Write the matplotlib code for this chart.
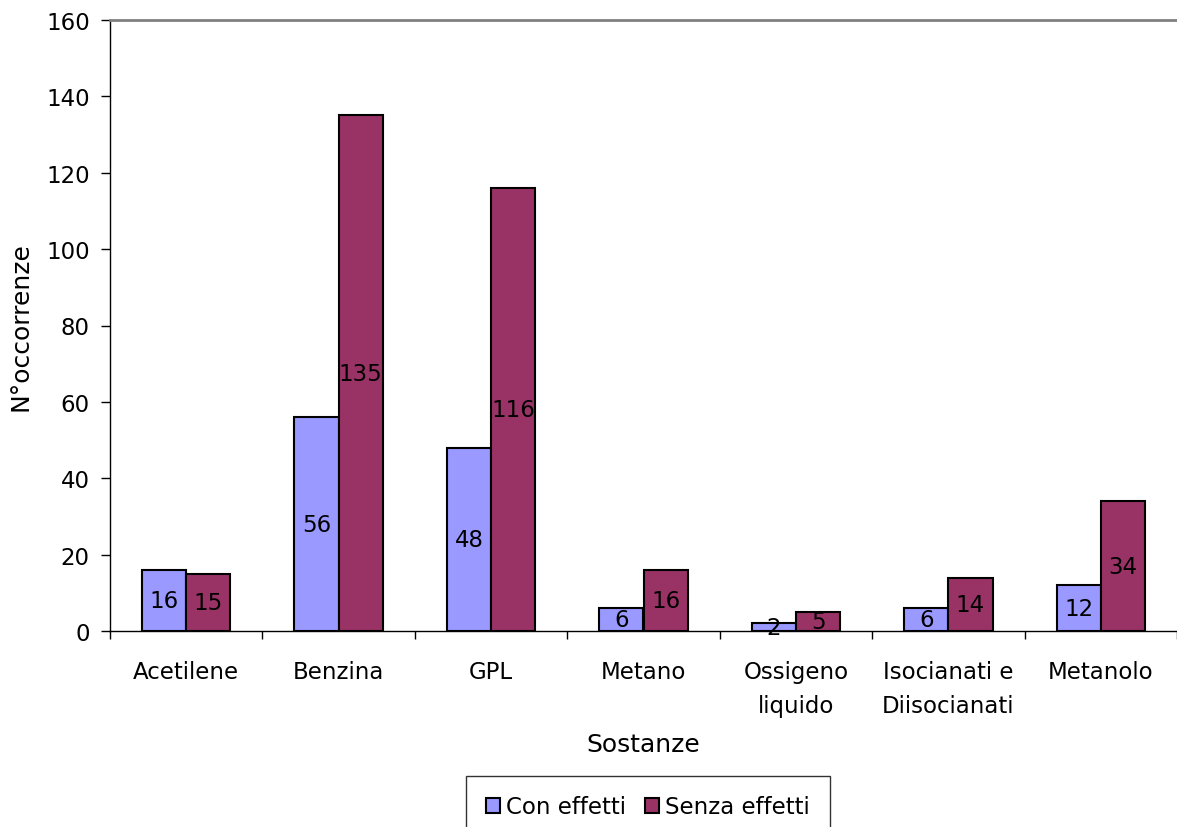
import matplotlib.pyplot as plt
import numpy as np

categories = ["Acetilene", "Benzina", "GPL", "Metano", "Ossigeno\nliquido",
              "Isocianati e\nDiisocianati", "Metanolo"]
con_effetti = [16, 56, 48, 6, 2, 6, 12]
senza_effetti = [15, 135, 116, 16, 5, 14, 34]

plt.rcParams['font.family'] = ['DejaVu Sans']

fig = plt.figure(figsize=(11.77, 8.28), dpi=100)
ax = fig.add_axes([110 / 1177, 1 - 632 / 828, 1 - 110 / 1177, (632 - 21) / 828])

x = np.arange(len(categories))
w = 0.29
b1 = ax.bar(x - w / 2, con_effetti, w, color='#9999FF', edgecolor='black', linewidth=1.5,
            label='Con effetti')
b2 = ax.bar(x + w / 2, senza_effetti, w, color='#993366', edgecolor='black', linewidth=1.5,
            label='Senza effetti')
ax.bar_label(b1, label_type='center', fontsize=16.5)
ax.bar_label(b2, label_type='center', fontsize=16.5)

ax.set_xlim(-0.5, len(categories) - 0.5)
ax.set_ylim(0, 160)
ax.set_yticks(np.arange(0, 161, 20))
ax.tick_params(axis='y', labelsize=16.5, length=6.5, width=1, direction='out', pad=8)

ax.set_xticks(np.arange(len(categories) + 1) - 0.5)
ax.set_xticklabels([])
ax.tick_params(axis='x', which='major', length=6, width=1, colors='black')
ax.set_xticks(x, minor=True)
ax.set_xticklabels(categories, minor=True, fontsize=16.5, linespacing=1.6)
ax.tick_params(axis='x', which='minor', length=0, pad=21)

ax.spines['right'].set_visible(False)
ax.spines['top'].set_color('#808080')
ax.spines['top'].set_linewidth(2)
ax.spines['left'].set_linewidth(1)
ax.spines['bottom'].set_linewidth(1)

ax.set_ylabel("N°occorrenze", fontsize=18, labelpad=10)
ax.set_xlabel("Sostanze", fontsize=18, labelpad=11)

leg = fig.legend(loc='upper center', bbox_to_anchor=(648 / 1177, 1 - 777 / 828), ncol=2,
                 fontsize=16.5, frameon=True, fancybox=False, edgecolor='black',
                 handlelength=0.6, handleheight=0.6, handletextpad=0.3, columnspacing=0.8,
                 borderpad=0.85, borderaxespad=0)
leg.get_frame().set_linewidth(1)

fig.savefig('out.png', dpi=100)
